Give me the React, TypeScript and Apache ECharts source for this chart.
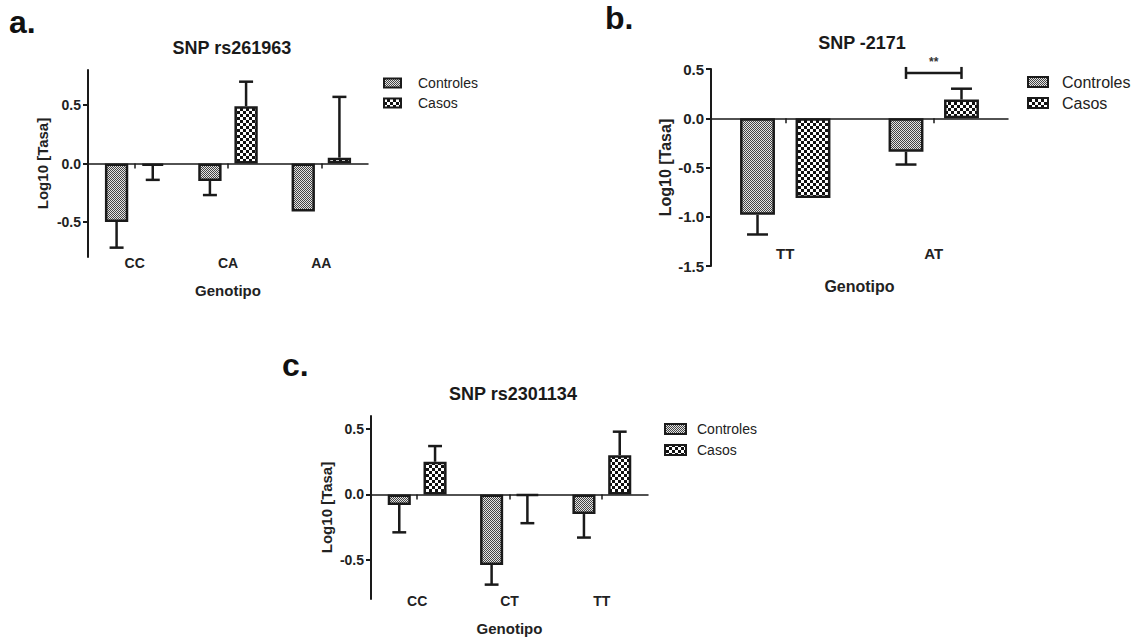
import React, { useEffect, useRef } from 'react';
import * as echarts from 'echarts';

// ---------- data ----------
const seriesNames = ['Controles', 'Casos'];
const titles = ['SNP rs261963', 'SNP -2171', 'SNP rs2301134'];
const panelLetters = ['a.', 'b.', 'c.'];
const xName = 'Genotipo';
const yName = 'Log10 [Tasa]';

const catsA = ['CC', 'CA', 'AA'];
const ctrlA = [-0.5, -0.15, -0.41];
const ctrlErrA = [0.22, 0.12, 0];
const casosA = [-0.02, 0.49, 0.05];
const casosErrA = [0.12, 0.21, 0.52];
const ticksA = [-0.5, 0, 0.5];

const catsB = ['TT', 'AT'];
const ctrlB = [-0.98, -0.34];
const ctrlErrB = [0.2, 0.13];
const casosB = [-0.81, 0.19];
const casosErrB = [0, 0.11];
const ticksB = [-1.5, -1, -0.5, 0, 0.5];
const bracketB = [1, 0.46];
const bracketLabel = '**';

const catsC = ['CC', 'CT', 'TT'];
const ctrlC = [-0.08, -0.54, -0.15];
const ctrlErrC = [0.21, 0.15, 0.18];
const casosC = [0.25, -0.01, 0.3];
const casosErrC = [0.12, 0.21, 0.18];
const ticksC = [-0.5, 0, 0.5];

const FONT = 'Arial, "Liberation Sans", sans-serif';
const INK = '#1a1a1a';

function makeCtrlPattern() {
  const c = document.createElement('canvas');
  c.width = 4; c.height = 4;
  const g = c.getContext('2d')!;
  g.fillStyle = '#e4e4e4';
  g.fillRect(0, 0, 4, 4);
  g.fillStyle = '#444';
  for (let y = 0; y < 4; y++) for (let x = 0; x < 4; x++) if ((x + y) % 2 === 0) g.fillRect(x, y, 1, 1);
  return c;
}
function makeCasosPattern() {
  const c = document.createElement('canvas');
  c.width = 6; c.height = 6;
  const g = c.getContext('2d')!;
  g.fillStyle = '#fff';
  g.fillRect(0, 0, 6, 6);
  g.fillStyle = '#111';
  g.fillRect(0, 0, 3, 3);
  g.fillRect(3, 3, 3, 3);
  return c;
}

export default function App() {
  const ref = useRef<HTMLDivElement>(null);
  useEffect(() => {
    if (!ref.current) return;
    const chart = echarts.init(ref.current, undefined, { renderer: 'svg' });
    const ctrlFill: any = { image: makeCtrlPattern(), repeat: 'repeat' };
    const casosFill: any = { image: makeCasosPattern(), repeat: 'repeat' };
    const fills = [ctrlFill, casosFill];

    const panels = [
      { cats: catsA, ctrl: ctrlA, ctrlErr: ctrlErrA, casos: casosA, casosErr: casosErrA, ticks: ticksA,
        grid: { left: 88, top: 70, width: 280, height: 187 }, min: -0.8, max: 0.8, bw: 0.25, gap: 0.55,
        fs: 14, labelMargin: -1, nameGap: 26, yNameGap: 38,
        title: { x: 227, y: 34, fs: 18 }, letter: { x: 9, y: 22 },
        legend: { x: 384, y: [83, 103], w: 17, h: 9, tx: 418, fs: 14 } },
      { cats: catsB, ctrl: ctrlB, ctrlErr: ctrlErrB, casos: casosB, casosErr: casosErrB, ticks: ticksB,
        grid: { left: 711, top: 69, width: 297, height: 197 }, min: -1.5, max: 0.5, bw: 0.235, gap: 0.59,
        fs: 15, labelMargin: -20, nameGap: 12, yNameGap: 38,
        title: { x: 857, y: 29, fs: 18 }, letter: { x: 605, y: 18 },
        legend: { x: 1028, y: [82, 103], w: 20, h: 10, tx: 1062, fs: 16 } },
      { cats: catsC, ctrl: ctrlC, ctrlErr: ctrlErrC, casos: casosC, casosErr: casosErrC, ticks: ticksC,
        grid: { left: 371, top: 416, width: 277, height: 183 }, min: -0.8, max: 0.6, bw: 0.25, gap: 0.55,
        fs: 14, labelMargin: -5, nameGap: 22, yNameGap: 37,
        title: { x: 508, y: 380, fs: 18 }, letter: { x: 282, y: 365 },
        legend: { x: 665, y: [429, 450], w: 21, h: 10, tx: 697, fs: 14 } },
    ];

    const grids: any[] = [];
    const xAxes: any[] = [];
    const yAxes: any[] = [];
    const series: any[] = [];
    const graphics: any[] = [];
    const titleOpts: any[] = [];

    const errRender = (sign: number, bwFrac: number, gapFrac: number) => (params: any, api: any) => {
      const idx = api.value(0);
      const v = api.value(1);
      const e = api.value(2);
      if (!e) return { type: 'group', children: [] };
      const band = api.size([1, 0])[0];
      const bw = band * bwFrac;
      const off = (sign * (bw + bw * gapFrac)) / 2;
      const end = v + (v < 0 ? -e : e);
      const p0 = api.coord([idx, v]);
      const p1 = api.coord([idx, end]);
      const x = p0[0] + off;
      const cap = (bw * 0.6) / 2;
      const st = { stroke: INK, lineWidth: 2.5 };
      return {
        type: 'group',
        children: [
          { type: 'line', shape: { x1: x, y1: p0[1], x2: x, y2: p1[1] }, style: st },
          { type: 'line', shape: { x1: x - cap, y1: p1[1], x2: x + cap, y2: p1[1] }, style: st },
        ],
      };
    };

    panels.forEach((p, i) => {
      grids.push({ ...p.grid, containLabel: false });
      xAxes.push({
        type: 'category', data: p.cats, gridIndex: i, position: 'top',
        axisLine: { show: true, onZero: true, lineStyle: { color: INK, width: 1.5 } },
        axisTick: { show: true, inside: true, alignWithLabel: true, length: 5, lineStyle: { color: INK, width: 1.5 } },
        axisLabel: { show: false }, splitLine: { show: false },
      });
      xAxes.push({
        type: 'category', data: p.cats, gridIndex: i, position: 'bottom',
        axisLine: { show: false, onZero: false }, axisTick: { show: false },
        axisLabel: { show: true, margin: p.labelMargin, color: '#222', fontWeight: 'bold', fontSize: p.fs, fontFamily: FONT },
        name: xName, nameLocation: 'middle', nameGap: p.nameGap,
        nameTextStyle: { color: '#222', fontWeight: 'bold', fontSize: p.fs + 1, fontFamily: FONT },
      });
      yAxes.push({
        type: 'value', gridIndex: i, min: p.min, max: p.max,
        axisLine: { show: true, onZero: false, lineStyle: { color: INK, width: 2 } },
        axisTick: { show: true, length: 5, customValues: p.ticks, lineStyle: { color: INK, width: 2 } },
        axisLabel: { show: true, margin: 7, customValues: p.ticks, formatter: (v: number) => v.toFixed(1),
          color: '#222', fontWeight: 'bold', fontSize: p.fs, fontFamily: FONT },
        splitLine: { show: false },
        name: yName, nameLocation: 'middle', nameRotate: 90, nameGap: p.yNameGap,
        nameTextStyle: { color: '#222', fontWeight: 'bold', fontSize: p.fs + 1, fontFamily: FONT },
      });
      const vals = [p.ctrl, p.casos];
      const errs = [p.ctrlErr, p.casosErr];
      vals.forEach((arr, k) => {
        series.push({
          type: 'bar', name: seriesNames[k], xAxisIndex: 2 * i, yAxisIndex: i,
          data: arr, barWidth: `${p.bw * 100}%`, barGap: `${p.gap * 100}%`,
          itemStyle: { color: fills[k], borderColor: INK, borderWidth: 2.5 },
          silent: true, z: 2,
        });
      });
      vals.forEach((arr, k) => {
        series.push({
          type: 'custom', name: seriesNames[k] + ' err', xAxisIndex: 2 * i, yAxisIndex: i,
          data: arr.map((v, j) => [j, v, errs[k][j]]),
          renderItem: errRender(k === 0 ? -1 : 1, p.bw, p.gap), z: 3, silent: true,
        });
      });
      if (i === 1) {
        series.push({
          type: 'custom', name: 'bracket', xAxisIndex: 2 * i, yAxisIndex: i,
          data: [bracketB],
          renderItem: (params: any, api: any) => {
            const band = api.size([1, 0])[0];
            const bw = band * p.bw;
            const off = (bw + bw * p.gap) / 2;
            const c = api.coord([api.value(0), api.value(1)]);
            const st = { stroke: INK, lineWidth: 2.5 };
            return {
              type: 'group',
              children: [
                { type: 'line', shape: { x1: c[0] - off, y1: c[1], x2: c[0] + off, y2: c[1] }, style: st },
                { type: 'line', shape: { x1: c[0] - off, y1: c[1] - 6, x2: c[0] - off, y2: c[1] + 6 }, style: st },
                { type: 'line', shape: { x1: c[0] + off, y1: c[1] - 6, x2: c[0] + off, y2: c[1] + 6 }, style: st },
                { type: 'text', style: { text: bracketLabel, x: c[0], y: c[1] - 5, align: 'center', verticalAlign: 'bottom',
                  fill: '#333', fontSize: 12, fontWeight: 'bold', fontFamily: FONT } },
              ],
            };
          },
          z: 3, silent: true,
        });
      }
      titleOpts.push({
        text: titles[i], left: p.title.x, top: p.title.y, textAlign: 'center',
        textStyle: { color: '#1a1a1a', fontWeight: 'bold', fontSize: p.title.fs, fontFamily: FONT },
      });
      graphics.push({
        type: 'text', x: p.letter.x, y: p.letter.y,
        style: { text: panelLetters[i], fill: '#111', fontSize: 32, fontWeight: 'bold', fontFamily: FONT, verticalAlign: 'middle' },
      });
      seriesNames.forEach((nm, k) => {
        const cy = p.legend.y[k];
        graphics.push({
          type: 'rect', shape: { x: p.legend.x, y: cy - p.legend.h / 2, width: p.legend.w, height: p.legend.h },
          style: { fill: fills[k], stroke: INK, lineWidth: 2 },
        });
        graphics.push({
          type: 'text', x: p.legend.tx, y: cy,
          style: { text: nm, fill: '#222', fontSize: p.legend.fs, fontFamily: FONT, verticalAlign: 'middle' },
        });
      });
    });

    chart.setOption({
      animation: false,
      backgroundColor: '#fff',
      title: titleOpts,
      grid: grids,
      xAxis: xAxes,
      yAxis: yAxes,
      series,
      graphic: graphics,
    });
    return () => chart.dispose();
  }, []);
  return (
    <div ref={ref} style={{ position: 'absolute', left: 0, top: 0, width: 1135, height: 639, background: '#fff' }} />
  );
}
